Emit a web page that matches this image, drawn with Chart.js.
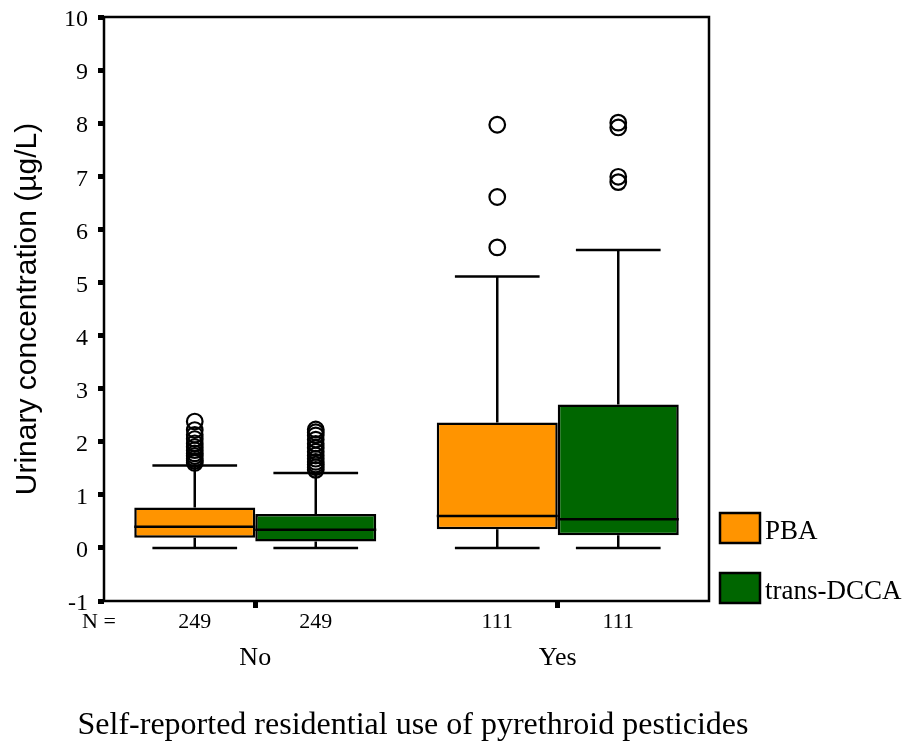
<!DOCTYPE html>
<html>
<head>
  <title>Urinary pyrethroid metabolites</title>
  <meta charset="utf-8">
  <style>
    body { margin: 0; background: #fff; }
  </style>
</head>
<body>
  <script src="https://cdn.jsdelivr.net/npm/chart.js"></script>
  <canvas id="boxChart" width="905" height="750"></canvas>
<script>
    // Groups on the x axis and the two metabolites
    const groups = ['No', 'Yes'];
    const seriesNames = ['PBA', 'trans-DCCA'];
    const seriesColors = ['#FF9400', '#006600'];
    const pbaCounts = [249, 111];
    const dccaCounts = [249, 111];

    // PBA box statistics (µg/L), one value per group
    const pbaLow = [0, 0];
    const pbaQ1 = [0.19, 0.35];
    const pbaMedian = [0.40, 0.60];
    const pbaQ3 = [0.76, 2.36];
    const pbaHigh = [1.55, 5.11];
    const pbaOutliers = [
      [1.60, 1.64, 1.68, 1.73, 1.78, 1.84, 1.90, 1.97, 2.05, 2.13, 2.22, 2.38],
      [5.66, 6.61, 7.97]
    ];

    // trans-DCCA box statistics (µg/L)
    const dccaLow = [0, 0];
    const dccaQ1 = [0.12, 0.24];
    const dccaMedian = [0.34, 0.54];
    const dccaQ3 = [0.64, 2.70];
    const dccaHigh = [1.41, 5.61];
    const dccaOutliers = [
      [1.47, 1.52, 1.57, 1.62, 1.68, 1.74, 1.81, 1.88, 1.96, 2.04, 2.12, 2.18, 2.23],
      [6.89, 6.99, 7.92, 8.01]
    ];

    // y axis range and step
    const yMin = -1;
    const yMax = 10;
    const yStep = 1;

    const xTitle = 'Self-reported residential use of pyrethroid pesticides';
    const yTitle = 'Urinary concentration (µg/L)';

    const serif = "'Liberation Serif', 'Times New Roman', serif";
    const sans = "'Liberation Sans', Arial, sans-serif";

    // whiskers, medians, outliers, N row, frame, legend and x title
    const boxPlotExtras = {
      id: 'boxPlotExtras',
      beforeDatasetsDraw(chart) {
        const ctx = chart.ctx;
        const y = chart.scales.y;
        ctx.save();
        ctx.strokeStyle = '#000';
        ctx.lineWidth = 2.5;
        chart.data.datasets.forEach((ds, d) => {
          chart.getDatasetMeta(d).data.forEach((bar, i) => {
            const cap = bar.width * 0.35;
            const yq1 = y.getPixelForValue(ds.data[i][0]);
            const yq3 = y.getPixelForValue(ds.data[i][1]);
            const yLo = y.getPixelForValue(ds.low[i]);
            const yHi = y.getPixelForValue(ds.high[i]);
            ctx.beginPath();
            ctx.moveTo(bar.x, yq3); ctx.lineTo(bar.x, yHi);
            ctx.moveTo(bar.x - cap, yHi); ctx.lineTo(bar.x + cap, yHi);
            ctx.moveTo(bar.x, yq1); ctx.lineTo(bar.x, yLo);
            ctx.moveTo(bar.x - cap, yLo); ctx.lineTo(bar.x + cap, yLo);
            ctx.stroke();
          });
        });
        ctx.restore();
      },
      afterDatasetsDraw(chart) {
        const ctx = chart.ctx;
        const y = chart.scales.y;
        ctx.save();
        ctx.strokeStyle = '#000';
        chart.data.datasets.forEach((ds, d) => {
          chart.getDatasetMeta(d).data.forEach((bar, i) => {
            const ym = y.getPixelForValue(ds.median[i]);
            ctx.lineWidth = 2.5;
            ctx.beginPath();
            ctx.moveTo(bar.x - bar.width / 2, ym);
            ctx.lineTo(bar.x + bar.width / 2, ym);
            ctx.stroke();
            ctx.lineWidth = 2.2;
            ds.outliers[i].forEach(v => {
              ctx.beginPath();
              ctx.arc(bar.x, y.getPixelForValue(v), 7.8, 0, Math.PI * 2);
              ctx.stroke();
            });
          });
        });
        ctx.restore();
      },
      afterDraw(chart) {
        const ctx = chart.ctx;
        const area = chart.chartArea;
        ctx.save();
        // frame round the plot
        ctx.strokeStyle = '#000';
        ctx.lineWidth = 2.5;
        ctx.strokeRect(area.left, area.top, area.right - area.left, area.bottom - area.top);

        // N = row under each box
        ctx.fillStyle = '#000';
        ctx.font = '22px ' + serif;
        ctx.textBaseline = 'middle';
        ctx.textAlign = 'left';
        ctx.fillText('N =', 82, area.bottom + 21);
        ctx.textAlign = 'center';
        chart.data.datasets.forEach((ds, d) => {
          chart.getDatasetMeta(d).data.forEach((bar, i) => {
            ctx.fillText(String(ds.counts[i]), bar.x, area.bottom + 21);
          });
        });

        // x axis title, wider than the plot so it is drawn here
        ctx.font = '32px ' + serif;
        ctx.fillText(xTitle, 413, 726);

        // legend on the right, bottom aligned
        ctx.font = '27px ' + serif;
        ctx.textAlign = 'left';
        chart.data.datasets.forEach((ds, d) => {
          const bx = area.right + 11;
          const by = area.bottom - 88 + d * 60;
          ctx.fillStyle = ds.backgroundColor;
          ctx.fillRect(bx, by, 40, 30);
          ctx.lineWidth = 2.5;
          ctx.strokeRect(bx, by, 40, 30);
          ctx.fillStyle = '#000';
          ctx.fillText(ds.label, bx + 45, by + 19);
        });
        ctx.restore();
      }
    };

    const ctx = document.getElementById('boxChart').getContext('2d');
    new Chart(ctx, {
      type: 'bar',
      data: {
        labels: groups,
        datasets: [
          {
            label: seriesNames[0],
            data: pbaQ1.map((q, i) => [q, pbaQ3[i]]),
            low: pbaLow, high: pbaHigh, median: pbaMedian,
            outliers: pbaOutliers, counts: pbaCounts,
            backgroundColor: seriesColors[0]
          },
          {
            label: seriesNames[1],
            data: dccaQ1.map((q, i) => [q, dccaQ3[i]]),
            low: dccaLow, high: dccaHigh, median: dccaMedian,
            outliers: dccaOutliers, counts: dccaCounts,
            backgroundColor: seriesColors[1]
          }
        ]
      },
      options: {
        responsive: false,
        animation: false,
        layout: { padding: { top: 17, right: 196, bottom: 0, left: 0 } },
        datasets: {
          bar: {
            borderColor: '#000',
            borderWidth: 2.5,
            borderSkipped: false,
            categoryPercentage: 0.8,
            barPercentage: 1.0
          }
        },
        plugins: {
          legend: { display: false },
          tooltip: { enabled: false }
        },
        scales: {
          x: {
            afterFit: scale => {
              scale.height = 149;
              scale.paddingLeft = 0;
              scale.paddingRight = 0;
            },
            border: { display: false },
            grid: {
              offset: false,
              drawOnChartArea: false,
              color: '#000',
              tickLength: 7,
              tickWidth: 5
            },
            ticks: {
              color: '#000',
              padding: 35,
              font: { family: serif, size: 26 }
            }
          },
          y: {
            min: yMin,
            max: yMax,
            afterFit: scale => {
              scale.width = 104;
              // let the top label overhang the plot
              scale.paddingTop = 0;
              scale.paddingBottom = 0;
            },
            border: { display: false },
            grid: {
              drawOnChartArea: false,
              color: '#000',
              tickLength: 6,
              tickWidth: 5
            },
            ticks: {
              stepSize: yStep,
              color: '#000',
              padding: 10,
              labelOffset: 3,
              font: { family: serif, size: 24 }
            },
            title: {
              display: true,
              text: yTitle,
              color: '#000',
              font: { family: sans, size: 30 },
              padding: { top: 10, bottom: 0 }
            }
          }
        }
      },
      plugins: [boxPlotExtras]
    });
</script>
</body>
</html>
